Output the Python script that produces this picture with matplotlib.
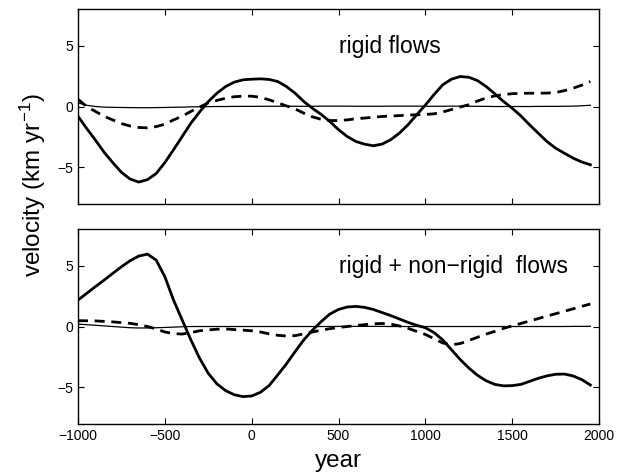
import matplotlib
matplotlib.use("Agg")
import matplotlib.pyplot as plt

plt.rcParams['font.family'] = ['Liberation Sans', 'DejaVu Sans']
plt.rcParams['mathtext.fontset'] = 'custom'
plt.rcParams['mathtext.rm'] = 'Liberation Sans'
plt.rcParams['mathtext.it'] = 'Liberation Sans'
plt.rcParams['mathtext.default'] = 'regular'

years = [-1000, -950, -900, -850, -800, -750, -700, -650, -600, -550,
         -500, -450, -400, -350, -300, -250, -200, -150, -100, -50,
         0, 50, 100, 150, 200, 250, 300, 350, 400, 450,
         500, 550, 600, 650, 700, 750, 800, 850, 900, 950,
         1000, 1050, 1100, 1150, 1200, 1250, 1300, 1350, 1400, 1450,
         1500, 1550, 1600, 1650, 1700, 1750, 1800, 1850, 1900, 1950]

# top panel: rigid flows
rigid_solid = [-0.8, -1.8, -2.75, -3.75, -4.6, -5.4, -5.95, -6.2, -6.0, -5.5,
               -4.6, -3.55, -2.46, -1.37, -0.45, 0.4, 1.09, 1.64, 2.0, 2.19,
               2.24, 2.27, 2.22, 2.05, 1.64, 1.09, 0.41, -0.15, -0.65, -1.23,
               -1.9, -2.46, -2.87, -3.09, -3.22, -3.09, -2.73, -2.19, -1.5, -0.68,
               0.12, 0.98, 1.78, 2.24, 2.46, 2.4, 2.13, 1.64, 1.04, 0.41,
               -0.14, -0.77, -1.5, -2.19, -2.87, -3.42, -3.83, -4.23, -4.55, -4.78]
rigid_dashed = [0.6, 0.0, -0.4, -0.8, -1.1, -1.4, -1.6, -1.72, -1.75, -1.65,
                -1.45, -1.1, -0.8, -0.4, -0.05, 0.3, 0.5, 0.68, 0.8, 0.85,
                0.85, 0.75, 0.55, 0.3, 0.05, -0.2, -0.55, -0.85, -1.05, -1.15,
                -1.15, -1.1, -1.0, -0.95, -0.88, -0.82, -0.78, -0.75, -0.7, -0.68,
                -0.65, -0.6, -0.45, -0.25, -0.05, 0.15, 0.45, 0.7, 0.87, 0.98,
                1.05, 1.08, 1.09, 1.09, 1.1, 1.15, 1.3, 1.5, 1.75, 2.05]
rigid_thin = [0.3, 0.1, 0.0, -0.05, -0.07, -0.08, -0.09, -0.1, -0.1, -0.09,
              -0.08, -0.06, -0.05, -0.03, -0.02, -0.01, 0.0, 0.0, 0.01, 0.01,
              0.01, 0.02, 0.02, 0.02, 0.02, 0.02, 0.02, 0.02, 0.03, 0.03,
              0.03, 0.03, 0.02, 0.02, 0.02, 0.02, 0.03, 0.03, 0.03, 0.03,
              0.02, 0.02, 0.02, 0.03, 0.03, 0.02, 0.02, 0.01, 0.0, 0.0,
              0.0, 0.0, 0.0, 0.01, 0.01, 0.01, 0.02, 0.03, 0.06, 0.1]

# bottom panel: rigid + non-rigid flows
full_solid = [2.17, 2.72, 3.27, 3.8, 4.36, 4.9, 5.4, 5.78, 5.94, 5.45,
              4.09, 2.17, 0.53, -1.1, -2.6, -3.84, -4.71, -5.26, -5.6, -5.75,
              -5.7, -5.4, -4.85, -3.97, -3.07, -2.06, -1.1, -0.3, 0.4, 1.02,
              1.4, 1.6, 1.65, 1.57, 1.4, 1.15, 0.9, 0.62, 0.34, 0.1,
              -0.1, -0.5, -1.1, -1.9, -2.7, -3.4, -4.0, -4.45, -4.75, -4.87,
              -4.85, -4.75, -4.5, -4.25, -4.05, -3.92, -3.9, -4.05, -4.35, -4.8]
full_dashed = [0.48, 0.47, 0.46, 0.42, 0.38, 0.32, 0.26, 0.15, 0.0, -0.2,
               -0.45, -0.58, -0.62, -0.5, -0.35, -0.28, -0.22, -0.2, -0.25, -0.3,
               -0.35, -0.45, -0.6, -0.72, -0.78, -0.75, -0.6, -0.45, -0.3, -0.18,
               -0.08, 0.0, 0.08, 0.15, 0.22, 0.25, 0.2, 0.05, -0.15, -0.4,
               -0.65, -1.0, -1.35, -1.5, -1.4, -1.15, -0.88, -0.62, -0.4, -0.15,
               0.05, 0.25, 0.45, 0.65, 0.85, 1.05, 1.25, 1.45, 1.65, 1.85]
full_thin = [0.2, 0.15, 0.1, 0.05, 0.0, -0.05, -0.1, -0.12, -0.12, -0.1,
             -0.08, -0.05, -0.02, 0.0, 0.0, 0.0, 0.0, 0.0, 0.0, 0.0,
             0.0, 0.0, 0.0, 0.0, 0.0, 0.0, 0.0, 0.0, 0.0, 0.0,
             0.01, 0.01, 0.01, 0.01, 0.01, 0.01, 0.0, 0.0, 0.0, 0.0,
             0.0, 0.0, 0.0, 0.0, 0.0, 0.0, 0.0, 0.0, 0.0, 0.0,
             0.0, 0.0, 0.0, 0.0, 0.0, 0.0, 0.0, 0.01, 0.01, 0.02]

xticks = [-1000, -500, 0, 500, 1000, 1500, 2000]
xticklabels = ['\u22121000', '\u2212500', '0', '500', '1000', '1500', '2000']
yticks = [-5, 0, 5]
yticklabels = ['\u22125', '0', '5']
titles = ['rigid flows', 'rigid + non\u2212rigid  flows']

fig = plt.figure(figsize=(6.27, 4.76), dpi=100)
ax1 = fig.add_axes([0.1244, 0.5714, 0.831, 0.4097])
ax2 = fig.add_axes([0.1244, 0.1092, 0.831, 0.4097])

for ax, s, d, t, title in [(ax1, rigid_solid, rigid_dashed, rigid_thin, titles[0]),
                           (ax2, full_solid, full_dashed, full_thin, titles[1])]:
    ax.plot(years, t, color='black', lw=0.9, solid_joinstyle='round')
    ax.plot(years, d, color='black', lw=2.0, dashes=(3.6, 2.4),
            dash_joinstyle='round')
    ax.plot(years, s, color='black', lw=2.0, solid_joinstyle='round')
    ax.set_xlim(-1000, 2000)
    ax.set_ylim(-8, 8)
    ax.set_xticks(xticks)
    ax.set_yticks(yticks)
    ax.set_yticklabels(yticklabels)
    ax.tick_params(direction='in', top=True, right=True, length=4, width=0.8,
                   labelsize=10)
    for sp in ax.spines.values():
        sp.set_linewidth(1.0)
    ax.text(500, 4.9, title, fontsize=16.5, va='center', ha='left')

ax1.set_xticklabels([])
ax2.set_xticklabels(xticklabels)

ax2.set_xlabel('year', fontsize=17.5, labelpad=5)
fig.text(0.052, 0.61, r'velocity (km yr$^{-1}$)', rotation=90,
         fontsize=17.5, ha='center', va='center')

fig.savefig('out.png', dpi=100)
